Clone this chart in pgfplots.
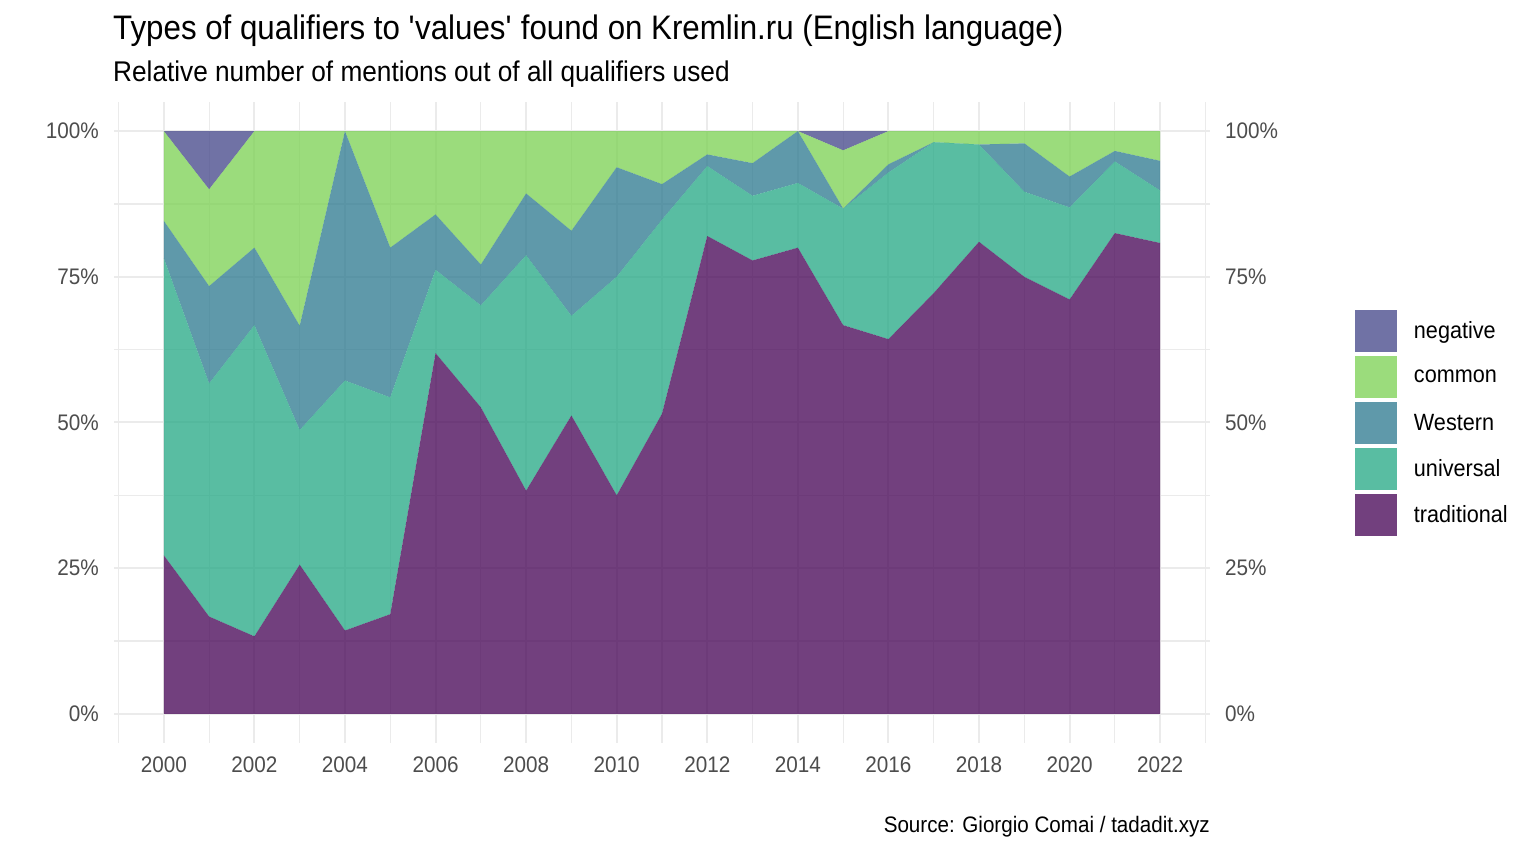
\documentclass[border=0pt]{standalone}
\usepackage{pgfplots}
\pgfplotsset{compat=1.18}
\usepackage{pgfplotstable}
\usepackage{fontspec}
\setmainfont{Liberation Sans}[FakeStretch=0.92]
\definecolor{cTrad}{HTML}{440154}
\definecolor{cNeg}{HTML}{414487}
\definecolor{cWest}{HTML}{2A788E}
\definecolor{cUniv}{HTML}{22A884}
\definecolor{cComm}{HTML}{7AD151}
\definecolor{gridc}{HTML}{EBEBEB}
\definecolor{tickc}{HTML}{4D4D4D}

\pgfplotstableread{
year trad univ west comm neg
2000 27.2 51.0 6.4 15.4 0
2001 16.7 40.0 16.7 16.6 10.0
2002 13.3 53.4 13.3 20.0 0
2003 25.6 23.1 17.9 33.4 0
2004 14.3 42.9 42.8 0 0
2005 17.1 37.2 25.7 20.0 0
2006 61.9 14.3 9.5 14.3 0
2007 52.6 17.5 7.0 22.9 0
2008 38.3 40.4 10.6 10.7 0
2009 51.2 17.1 14.6 17.1 0
2010 37.5 37.5 18.8 6.2 0
2011 51.5 33.3 6.1 9.1 0
2012 82.0 12.0 2.0 4.0 0
2013 77.8 11.1 5.6 5.5 0
2014 80.0 11.1 8.9 0 0
2015 66.7 20.0 0 10.0 3.3
2016 64.3 28.6 1.4 5.7 0
2017 72.2 25.9 0 1.9 0
2018 81.0 16.7 0 2.3 0
2019 75.0 14.6 8.3 2.1 0
2020 71.1 15.8 5.3 7.8 0
2021 82.5 12.3 1.8 3.4 0
2022 80.8 9.0 5.1 5.1 0
}\data

\begin{document}
\begin{tikzpicture}
\useasboundingbox (0,0) rectangle (1536pt,864pt);
\fill[white] (0,0) rectangle (1536pt,864pt);
\pgfplotsset{
  common/.style={
    at={(114pt,121pt)}, anchor=south west,
    scale only axis, width=1096pt, height=641pt,
    xmin=1998.9, xmax=2023.1, ymin=-5, ymax=105,
    ytick={0,25,50,75,100},
    /pgf/number format/assume math mode=true,
    /pgf/number format/1000 sep={},
    axis line style={draw=none},
    tick style={draw=none},
    ticklabel style={font=\fontsize{22.5}{24}\selectfont, text=tickc, inner sep=0pt},
    yticklabel={\pgfmathprintnumber{\tick}\%},
  }
}
\begin{axis}[
  common,
  xtick={2000,2002,...,2022},
  minor xtick={1999,2001,...,2023},
  minor ytick={12.5,37.5,62.5,87.5},
  grid=both,
  major grid style={gridc, line width=2pt},
  minor grid style={gridc, line width=1.1pt},
  xticklabel style={yshift=-14pt, anchor=north},
  yticklabel style={xshift=-15pt, anchor=east},
  stack plots=y,
  legend image code/.code={\fill[#1] (0pt,-21pt) rectangle (42pt,21pt);},
  legend style={at={(1.1323,0.6755)}, anchor=north west, draw=none, fill=none,
    inner sep=0pt, outer sep=0pt, row sep=4pt,
    nodes={inner sep=0pt, font=\fontsize{23.5}{26}\selectfont, text=black},
    /tikz/every odd column/.style={column sep=17pt}},
  legend cell align=left,
  reverse legend,
]
\addplot[fill=cTrad, fill opacity=0.75, draw=none] table[x=year,y=trad]{\data} \closedcycle;
\addlegendentry{traditional}
\addplot[fill=cUniv, fill opacity=0.75, draw=none] table[x=year,y=univ]{\data} \closedcycle;
\addlegendentry{universal}
\addplot[fill=cWest, fill opacity=0.75, draw=none] table[x=year,y=west]{\data} \closedcycle;
\addlegendentry{Western}
\addplot[fill=cComm, fill opacity=0.75, draw=none] table[x=year,y=comm]{\data} \closedcycle;
\addlegendentry{common}
\addplot[fill=cNeg, fill opacity=0.75, draw=none] table[x=year,y=neg]{\data} \closedcycle;
\addlegendentry{negative}
\end{axis}
\begin{axis}[
  common,
  hide x axis,
  axis y line*=right,
  yticklabel pos=right,
  yticklabel style={xshift=15pt, anchor=west},
]
\end{axis}
\node[anchor=base west, inner sep=0pt, font=\fontsize{34}{38}\selectfont] at (113pt,824.7pt)
  {Types of qualifiers to \textquotesingle values\textquotesingle\ found on Kremlin.ru (English language)};
\node[anchor=base west, inner sep=0pt, font=\fontsize{28.5}{32}\selectfont] at (113pt,782.3pt)
  {Relative number of mentions out of all qualifiers used};
\node[anchor=base east, inner sep=0pt, font=\fontsize{22.4}{26}\selectfont] at (1210pt,31.5pt)
  {Source: Giorgio Comai / tadadit.xyz};
\end{tikzpicture}
\end{document}
